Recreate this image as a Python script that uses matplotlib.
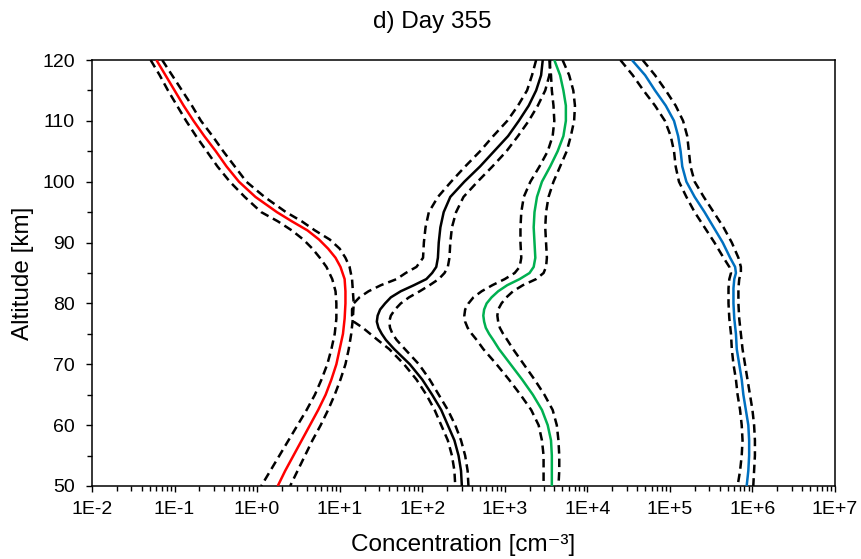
import numpy as np
import matplotlib
matplotlib.use("Agg")
import matplotlib.pyplot as plt
from matplotlib.ticker import FixedLocator, LogLocator, FuncFormatter, MultipleLocator, NullFormatter

plt.rcParams['font.family'] = ['Liberation Sans', 'DejaVu Sans']

# ---------------- data (log10 of concentration, cm^-3) ----------------
red_alt = [120, 117.5, 115, 112.5, 110, 107.5, 105, 102.5, 100, 97.5, 95, 93.5, 92, 90.5, 89, 87.5, 86,
           84, 82, 80, 77.5, 75, 72.5, 70, 67.5, 65, 62.5, 60, 57.5, 55, 52.5, 50]
red_mid = [-1.22, -1.11, -1.00, -0.89, -0.77, -0.64, -0.50, -0.37, -0.22, -0.02, 0.24, 0.42, 0.61, 0.75, 0.86, 0.95, 1.01,
           1.06, 1.07, 1.07, 1.06, 1.04, 1.00, 0.96, 0.90, 0.83, 0.74, 0.64, 0.54, 0.44, 0.34, 0.25]
red_low = [-1.29, -1.18, -1.08, -0.97, -0.86, -0.74, -0.61, -0.48, -0.33, -0.15, 0.05, 0.25, 0.42, 0.56, 0.67, 0.76, 0.84,
           0.91, 0.95, 0.96, 0.96, 0.94, 0.90, 0.85, 0.78, 0.70, 0.60, 0.49, 0.38, 0.27, 0.16, 0.05]
red_high = [-1.15, -1.03, -0.91, -0.79, -0.68, -0.54, -0.41, -0.27, -0.13, 0.09, 0.35, 0.54, 0.70, 0.88, 1.00, 1.07, 1.12,
            1.15, 1.16, 1.17, 1.16, 1.14, 1.11, 1.07, 1.01, 0.94, 0.86, 0.77, 0.67, 0.58, 0.49, 0.40]

blk_alt = [120, 117.5, 115, 112.5, 110, 107.5, 105, 102.5, 100, 97.5, 95, 92.5, 90, 87.5, 86, 85, 84, 83, 82, 81,
           80, 79, 78, 77, 76, 75, 74, 72.5, 70, 67.5, 65, 62.5, 60, 57.5, 55, 52.5, 50]
blk_mid = [3.46, 3.44, 3.38, 3.29, 3.17, 3.04, 2.87, 2.70, 2.51, 2.34, 2.26, 2.22, 2.20, 2.19, 2.17, 2.12, 2.05, 1.90, 1.74, 1.62,
           1.55, 1.49, 1.46, 1.45, 1.47, 1.51, 1.56, 1.66, 1.85, 2.00, 2.12, 2.23, 2.31, 2.39, 2.44, 2.47, 2.48]
blk_low = [3.38, 3.33, 3.27, 3.16, 3.03, 2.86, 2.70, 2.52, 2.35, 2.19, 2.08, 2.04, 2.02, 2.01, 1.93, 1.80, 1.69, 1.50, 1.35, 1.24,
           1.17, 1.15, 1.15, 1.17, 1.28, 1.37, 1.46, 1.60, 1.78, 1.93, 2.05, 2.15, 2.23, 2.31, 2.36, 2.39, 2.40]
blk_high = [3.55, 3.54, 3.49, 3.40, 3.29, 3.16, 3.02, 2.85, 2.67, 2.50, 2.41, 2.36, 2.34, 2.33, 2.31, 2.27, 2.20, 2.09, 1.97, 1.84,
            1.74, 1.67, 1.62, 1.60, 1.61, 1.64, 1.69, 1.79, 1.96, 2.09, 2.20, 2.31, 2.40, 2.47, 2.52, 2.55, 2.56]

grn_alt = blk_alt
grn_mid = [3.60, 3.67, 3.71, 3.74, 3.74, 3.71, 3.64, 3.55, 3.45, 3.39, 3.36, 3.35, 3.36, 3.37, 3.35, 3.30, 3.18, 3.03, 2.92, 2.84,
           2.78, 2.75, 2.74, 2.75, 2.77, 2.81, 2.86, 2.93, 3.07, 3.21, 3.34, 3.45, 3.52, 3.56, 3.57, 3.57, 3.57]
grn_low = [3.54, 3.56, 3.57, 3.59, 3.60, 3.58, 3.52, 3.42, 3.31, 3.23, 3.20, 3.19, 3.19, 3.20, 3.18, 3.12, 3.00, 2.85, 2.72, 2.62,
           2.56, 2.52, 2.51, 2.52, 2.55, 2.60, 2.66, 2.74, 2.90, 3.05, 3.19, 3.32, 3.41, 3.45, 3.47, 3.47, 3.47]
grn_high = [3.70, 3.78, 3.83, 3.85, 3.84, 3.80, 3.75, 3.67, 3.59, 3.53, 3.50, 3.49, 3.50, 3.51, 3.50, 3.47, 3.38, 3.22, 3.10, 3.02,
            2.96, 2.92, 2.91, 2.92, 2.94, 2.98, 3.03, 3.10, 3.23, 3.36, 3.48, 3.58, 3.63, 3.65, 3.66, 3.66, 3.65]

blu_alt = [120, 117.5, 115, 112.5, 110, 107.5, 105, 102.5, 100, 97.5, 95, 92.5, 90, 87.5, 86, 85, 84, 82.5,
           80, 77.5, 75, 72.5, 70, 67.5, 65, 62.5, 60, 57.5, 55, 52.5, 50]
blu_mid = [4.54, 4.70, 4.82, 4.95, 5.05, 5.10, 5.13, 5.15, 5.20, 5.30, 5.42, 5.53, 5.64, 5.73, 5.79, 5.80, 5.78, 5.77,
           5.77, 5.78, 5.80, 5.81, 5.84, 5.87, 5.89, 5.92, 5.95, 5.96, 5.96, 5.95, 5.93]
blu_low = [4.40, 4.55, 4.68, 4.82, 4.94, 5.01, 5.05, 5.07, 5.11, 5.20, 5.30, 5.42, 5.54, 5.65, 5.72, 5.74, 5.72, 5.71,
           5.71, 5.72, 5.74, 5.75, 5.77, 5.80, 5.82, 5.85, 5.87, 5.88, 5.87, 5.85, 5.82]
blu_high = [4.67, 4.82, 4.95, 5.07, 5.16, 5.21, 5.23, 5.25, 5.30, 5.41, 5.53, 5.65, 5.75, 5.83, 5.86, 5.86, 5.84, 5.83,
            5.83, 5.84, 5.86, 5.88, 5.91, 5.94, 5.97, 6.00, 6.02, 6.03, 6.03, 6.02, 6.01]

x_decades = [-2, -1, 0, 1, 2, 3, 4, 5, 6, 7]
title = "d) Day 355"
xlabel = "Concentration [cm\u207B\u00B3]"
ylabel = "Altitude [km]"

# ---------------- plotting ----------------
fig = plt.figure(figsize=(8.61, 5.59), dpi=100)
ax = fig.add_axes([92/861, 1 - 486/559, (835-92)/861, (486-60)/559])

dash = (0, (3.4, 2.0))
series = [
    (red_alt, red_mid, red_low, red_high, '#FF0000'),
    (blk_alt, blk_mid, blk_low, blk_high, '#000000'),
    (grn_alt, grn_mid, grn_low, grn_high, '#00B050'),
    (blu_alt, blu_mid, blu_low, blu_high, '#0070C0'),
]
for alt, mid, low, high, col in series:
    alt = np.asarray(alt)
    ax.plot(10.0 ** np.asarray(low), alt, color='black', lw=1.8, linestyle=dash, zorder=2)
    ax.plot(10.0 ** np.asarray(high), alt, color='black', lw=1.8, linestyle=dash, zorder=2)
    ax.plot(10.0 ** np.asarray(mid), alt, color=col, lw=1.8, zorder=3,
            solid_capstyle='butt')

ax.set_xscale('log')
ax.set_xlim(10.0 ** x_decades[0], 10.0 ** x_decades[-1])
ax.set_ylim(50, 120)

ax.xaxis.set_major_locator(FixedLocator([10.0 ** d for d in x_decades]))
ax.xaxis.set_major_formatter(FuncFormatter(lambda v, p: "1E%+d" % int(round(np.log10(v)))))
ax.xaxis.set_minor_locator(LogLocator(base=10, subs=np.arange(2, 10), numticks=20))
ax.xaxis.set_minor_formatter(NullFormatter())
ax.yaxis.set_major_locator(MultipleLocator(10))
ax.yaxis.set_minor_locator(MultipleLocator(5))

ax.tick_params(which='major', direction='out', length=4.5, width=1.0, labelsize=14, colors='black')
ax.tick_params(which='minor', direction='out', length=3.5, width=1.0)
ax.tick_params(axis='y', which='major', pad=8)
ax.tick_params(axis='x', which='major', pad=6)
for s in ax.spines.values():
    s.set_linewidth(1.1)
    s.set_color('black')

ax.set_xlabel(xlabel, fontsize=17.5, labelpad=12)
ax.set_ylabel(ylabel, fontsize=17.5, labelpad=6)
fig.text(0.502, 1 - 22/559, title, ha='center', va='center', fontsize=17.5)

fig.savefig("out.png", dpi=100)
